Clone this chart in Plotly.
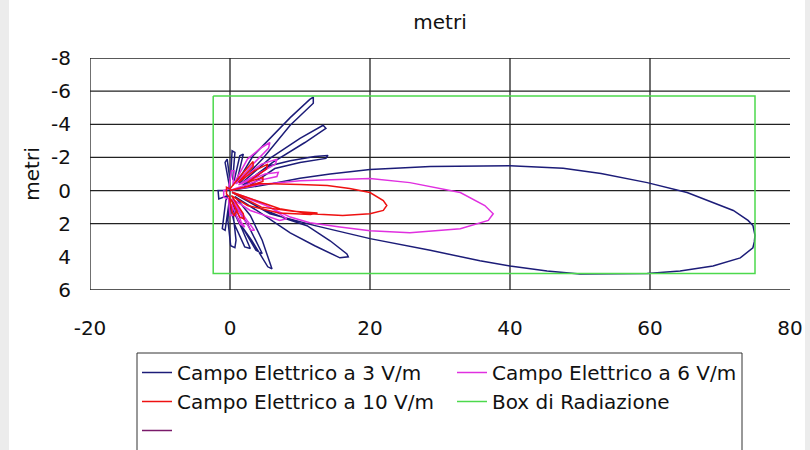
import plotly.graph_objects as go

# ---- data (metri) ----
campo3_x = [0, 3, 6.1, 10, 14.3, 20, 28.6, 40, 47.6, 53, 59.6, 65.3, 69, 71.9, 74, 74.7, 75, 74.9, 74.7, 72.9, 69, 64.3, 59.6, 55, 50, 45.3, 40, 35.7, 28.6, 20, 12, 5.7, 2, 0.3,
            4, 8, 11, 14.3, 16.7, 16.9, 15.7, 12.1, 8.6, 4.3, 0.7,
            2.9, 4.6, 5.7, 6, 5.4, 3.1, 1.1, 0.3,
            2.6, 4.3, 4.6, 3.7, 1.9, 0.1,
            1.7, 2.9, 2.1, 0.7, 0,
            0.5, 0.86, 0.7, 0.1, -0.3, -0.1,
            -0.7, -1.1, -0.6,
            -0.3, -1.6, -1.7, -0.3,
            -0.1, -0.7, -0.4, 0, 0.1, 0.3, 0.7, 0.4, 0.6, 1.4, 1.9, 1,
            0.9, 3.3, 5.7, 8.6, 11.4, 11.9, 11.9, 8.6, 4.7, 1.4,
            1.6, 5.7, 10, 13.3, 13.7, 10.7, 6.1, 1.9,
            2.1, 5.7, 8.6, 12.1, 14, 13.7, 10, 6.4, 2.6, 0]
campo3_y = [0, -0.2, -0.42, -0.75, -1.0, -1.27, -1.45, -1.5, -1.35, -1.03, -0.48, 0.12, 0.7, 1.2, 1.8, 2.1, 2.7, 3.1, 3.45, 4.06, 4.55, 4.85, 5.0, 5.03, 5.03, 4.85, 4.55, 4.24, 3.6, 2.9, 2.1, 1.4, 0.5, 0.1,
            1.0, 1.7, 2.12, 3.03, 3.82, 4.0, 4.06, 3.33, 2.55, 1.33, 0.36,
            1.5, 3.0, 4.36, 4.73, 4.6, 3.0, 1.8, 0.6,
            2.1, 3.5, 3.8, 3.6, 2.3, 0.9,
            2.3, 3.5, 3.4, 2.1, 0.9,
            1.6, 3.0, 3.45, 3.33, 1.8, 0.6,
            2.4, 2.3, 0.6,
            0.3, 0.5, 0, 0,
            -0.3, -1.7, -1.9, -0.6, -0.9, -2.4, -2.3, -0.7, -0.6, -2.1, -2.2, -0.6,
            -0.42, -2.1, -3.15, -4.4, -5.5, -5.64, -5.27, -3.94, -1.94, -0.48,
            -0.42, -1.94, -3.15, -3.94, -3.76, -2.9, -1.7, -0.36,
            -0.3, -1.5, -1.8, -2.06, -2.12, -1.94, -1.7, -1.33, -0.24, 0]

campo6_x = [0, 4.3, 10, 20, 25.7, 30, 32.9, 36.4, 37.6, 36.9, 32.9, 25.7, 20, 15.7, 11.4, 8.6, 3.6, 0.3,
            5.7, 8.1, 7.1, 2.9, 0.3,
            2.6, 3.5, 3.0, 0.6, 1.6, 2.1, 1.4, 0.2, 0.4, 0, -0.2,
            -0.9, -0.9, -0.2,
            0.2, 0.6, 0.4,
            2.5, 4.5, 5.7, 5.5, 3.3, 0.8, 4.5, 6.7, 6.5, 4, 1.2, 5, 6.9, 6.7, 4, 0]
campo6_y = [0, -0.36, -0.6, -0.73, -0.48, -0.1, 0.12, 0.9, 1.4, 1.8, 2.3, 2.55, 2.42, 2.2, 1.94, 1.6, 0.6, 0.1,
            1.0, 1.7, 1.8, 1.2, 0.5,
            1.9, 2.4, 2.4, 0.8, 1.9, 2.2, 2.0, 0.8, 1.5, 1.5, 0.5,
            0.4, 0.0, -0.1,
            -1.2, -1.2, -0.3,
            -1.9, -2.6, -2.9, -2.55, -1.6, -0.4, -1.6, -1.9, -1.6, -1.0, -0.35, -1.0, -1.1, -0.85, -0.6, 0]

campo10_x = [0, 4.3, 10, 13.9, 17.1, 20, 21.9, 22.4, 21.9, 20, 16.1, 11.4, 7.1, 2.9, 0.3,
             4.5, 9, 12.5, 11.5, 7, 2.5, 0.2, 1.9, 2.0, 1.4, 0.1, 1, 0.6, 0.3, -0.1,
             -0.5, -0.5, 0,
             1.5, 3.3, 3.3, 1.2, 3.5, 5.4, 5.2, 2.5, 4.7, 4.7, 2, 0]
campo10_y = [0, -0.42, -0.36, -0.3, -0.12, 0.12, 0.6, 0.9, 1.2, 1.4, 1.5, 1.4, 1.1, 0.5, 0.1,
             1.0, 1.25, 1.35, 1.45, 1.35, 0.9, 0.3, 1.4, 1.7, 1.6, 0.5, 1.2, 1.5, 1.3, 0.4,
             0.2, -0.2, -0.1,
             -0.9, -1.75, -1.45, -0.5, -1.2, -1.6, -1.3, -0.5, -0.8, -0.55, -0.2, 0]

box_x = [-2.4, 75, 75, -2.4, -2.4]
box_y = [-5.7, -5.7, 5.0, 5.0, -5.7]

x_ticks = [-20, 0, 20, 40, 60, 80]
x_tick_labels = ["-20", "0", "20", "40", "60", "80"]
y_ticks = [-8, -6, -4, -2, 0, 2, 4, 6]
y_tick_labels = ["-8", "-6", "-4", "-2", "0", "2", "4", "6"]
grid_x = [-20, 0, 20, 40, 60]
grid_y = [-8, -6, -4, -2, 0, 2, 6]

FONT = "DejaVu Sans"

fig = go.Figure()
fig.add_trace(go.Scatter(x=campo3_x, y=campo3_y, mode="lines", name="Campo Elettrico a 3 V/m",
                         line=dict(color="#1c1c78", width=1.5)))
fig.add_trace(go.Scatter(x=campo6_x, y=campo6_y, mode="lines", name="Campo Elettrico a 6 V/m",
                         line=dict(color="#e030e0", width=1.5)))
fig.add_trace(go.Scatter(x=campo10_x, y=campo10_y, mode="lines", name="Campo Elettrico a 10 V/m",
                         line=dict(color="#ee1111", width=1.5)))
fig.add_trace(go.Scatter(x=box_x, y=box_y, mode="lines", name="Box di Radiazione",
                         line=dict(color="#4cd94c", width=1.5)))
fig.add_trace(go.Scatter(x=[None], y=[None], mode="lines", name=" ",
                         line=dict(color="#7a1a6a", width=1.5)))

shapes = []
for gx in grid_x:
    shapes.append(dict(type="line", xref="x", yref="y", x0=gx, x1=gx, y0=-8, y1=6,
                       line=dict(color="#222222", width=1.3), layer="below"))
for gy in grid_y:
    shapes.append(dict(type="line", xref="x", yref="y", x0=-20, x1=80, y0=gy, y1=gy,
                       line=dict(color="#222222", width=1.3), layer="below"))
# light grey page edges
shapes.append(dict(type="rect", xref="paper", yref="paper", x0=-90/700, x1=-81/700, y0=-160/232, y1=58/232 + 1,
                   fillcolor="#ececec", line=dict(width=0), layer="below"))
shapes.append(dict(type="rect", xref="paper", yref="paper", x0=715/700, x1=720/700, y0=-160/232, y1=58/232 + 1,
                   fillcolor="#ececec", line=dict(width=0), layer="below"))
# legend frame
shapes.append(dict(type="rect", xref="paper", yref="paper", x0=47/700, x1=652/700, y0=-175/232, y1=-63/232,
                   fillcolor="rgba(0,0,0,0)", line=dict(color="#333333", width=1), layer="below"))

fig.update_layout(
    width=810, height=450,
    margin=dict(l=90, r=20, t=58, b=160, autoexpand=False),
    paper_bgcolor="white", plot_bgcolor="white",
    font=dict(family=FONT, size=20, color="#111111"),
    title=dict(text="metri", x=0.5, xref="paper", xanchor="center", yref="container",
               y=1 - 22/450, yanchor="middle",
               font=dict(family=FONT, size=20, color="#111111")),
    xaxis=dict(range=[-20, 80], tickvals=x_ticks, ticktext=x_tick_labels, showgrid=False,
               zeroline=False, showline=False, automargin=False,
               ticks="", ticklabelstandoff=24, tickfont=dict(size=20)),
    yaxis=dict(range=[6, -8], tickvals=y_ticks, ticktext=y_tick_labels, showgrid=False,
               zeroline=False, showline=False, automargin=False,
               ticks="", ticklabelstandoff=18, tickfont=dict(size=20),
               title=dict(text="metri", standoff=6, font=dict(size=20))),
    showlegend=True,
    legend=dict(orientation="h", x=47/700, y=-63/232, xanchor="left", yanchor="top",
                borderwidth=0, bgcolor="rgba(0,0,0,0)",
                entrywidth=270, entrywidthmode="pixels", font=dict(size=20),
                tracegroupgap=0, itemwidth=30),
    shapes=shapes,
)

fig.write_html("out.html", config={"displayModeBar": False},
               post_script="document.body.style.margin='0px';document.body.style.padding='0px';")
